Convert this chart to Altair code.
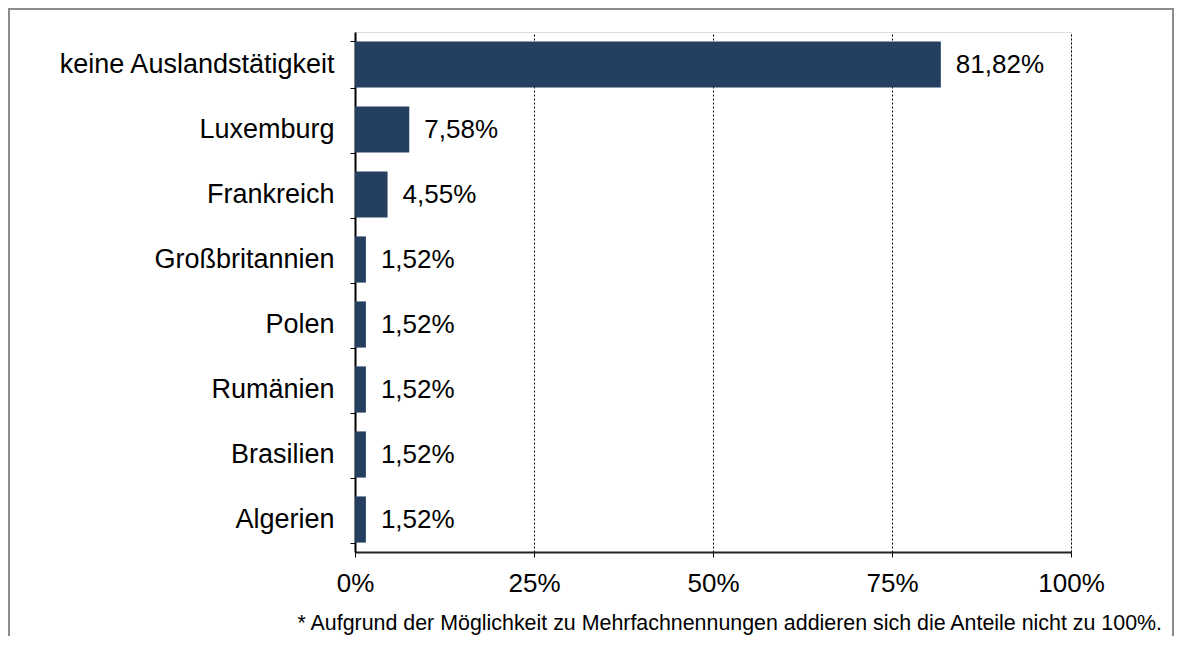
import altair as alt
import pandas as pd

categories = ["keine Auslandstätigkeit", "Luxemburg", "Frankreich", "Großbritannien",
              "Polen", "Rumänien", "Brasilien", "Algerien"]
values = [81.82, 7.58, 4.55, 1.52, 1.52, 1.52, 1.52, 1.52]
value_labels = ["81,82%", "7,58%", "4,55%", "1,52%", "1,52%", "1,52%", "1,52%", "1,52%"]
x_ticks = [0, 25, 50, 75, 100]
footnote = "* Aufgrund der Möglichkeit zu Mehrfachnennungen addieren sich die Anteile nicht zu 100%."

FONT = "Liberation Sans"
BAR = "#253F61"

df = pd.DataFrame({"cat": categories, "val": values, "lab": value_labels})

y_enc = alt.Y("cat:N", sort=categories,
              scale=alt.Scale(paddingInner=0.29, paddingOuter=0.145),
              axis=alt.Axis(title=None, tickBand="extent", labelFontSize=27, labelFont=FONT,
                            labelColor="#000", labelPadding=16, tickSize=5, tickColor="#000",
                            labelLimit=0, domainColor="#000", domainWidth=2, grid=False))
x_enc = alt.X("val:Q", scale=alt.Scale(domain=[0, 100], nice=False),
              axis=alt.Axis(title=None, values=x_ticks, labelExpr="datum.value + '%'",
                            labelFontSize=26, labelFont=FONT, labelColor="#000",
                            labelPadding=13, tickSize=5, tickColor="#000",
                            labelFlush=False, labelOverlap=False,
                            domainColor="#222", domainWidth=2,
                            grid=True, gridColor="#000", gridDash=[2, 2], gridWidth=1))

base = alt.Chart(df)
bars = base.mark_bar(color=BAR).encode(y=y_enc, x=x_enc)
text = base.mark_text(align="left", baseline="middle", dx=15, fontSize=26, font=FONT,
                      color="#000").encode(y=alt.Y("cat:N", sort=categories), x="val:Q", text="lab:N")

note = alt.Chart(pd.DataFrame({"t": [footnote]})).mark_text(
    align="right", baseline="middle", fontSize=21.4, font=FONT, color="#000"
).encode(x=alt.value(807), y=alt.value(592), text="t:N")

frame = alt.Chart(pd.DataFrame({"a": [0]})).mark_rect(
    fillOpacity=0, stroke="#8c8c8c", strokeWidth=2
).encode(x=alt.value(-346), x2=alt.value(818), y=alt.value(-23), y2=alt.value(700))

chart = alt.layer(frame, bars, text, note).properties(
    width=716, height=520,
    autosize=alt.AutoSizeParams(type="none"),
    padding={"left": 347, "top": 24, "right": 103, "bottom": 84},
).configure_view(stroke="#000", strokeWidth=1).configure(background="white")

chart.save("out.html", embed_options={"renderer": "svg", "actions": False})
